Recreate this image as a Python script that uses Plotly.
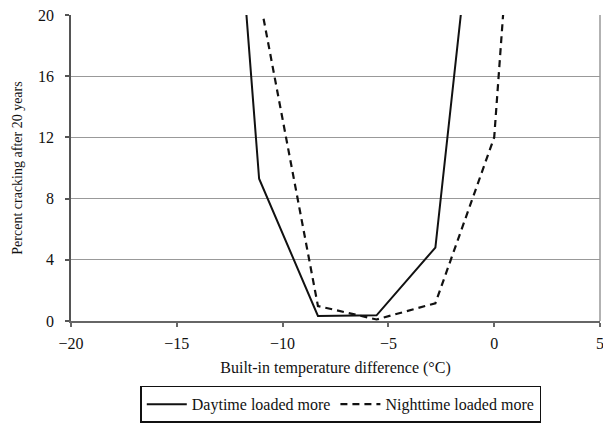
import plotly.graph_objects as go

# Built-in temperature difference (°C)
x_day = [-13.89, -11.11, -8.33, -5.56, -2.78, 0.0]
y_day = [59.0, 9.3, 0.33, 0.37, 4.8, 40.0]
x_night = [-11.11, -8.33, -5.56, -2.78, 0.0, 2.78]
y_night = [21.3, 0.98, 0.1, 1.16, 12.0, 65.0]
series_names = ["Daytime loaded more", "Nighttime loaded more"]
x_ticks = [-20, -15, -10, -5, 0, 5]
y_ticks = [0, 4, 8, 12, 16, 20]

FONT = "Liberation Serif"

fig = go.Figure()
fig.add_trace(go.Scatter(x=x_day, y=y_day, mode="lines", name=series_names[0],
                         line=dict(color="#111111", width=2)))
fig.add_trace(go.Scatter(x=x_night, y=y_night, mode="lines", name=series_names[1],
                         line=dict(color="#111111", width=2.2, dash="7px,5px")))

fig.update_layout(
    width=603, height=424,
    margin=dict(l=71, r=3, t=15, b=103, autoexpand=False),
    paper_bgcolor="white", plot_bgcolor="white",
    font=dict(family=FONT, size=14, color="#111111"),
    showlegend=True,
    legend=dict(orientation="h", x=0.51, xanchor="center",
                yref="container", y=0.003, yanchor="bottom",
                bordercolor="#111111", borderwidth=1.5, font=dict(family=FONT, size=16),
                itemwidth=40, tracegroupgap=0),
    xaxis=dict(range=[-20, 5], tickvals=x_ticks, showgrid=False, zeroline=False,
               showline=True, linecolor="#666666", linewidth=1.5,
               ticks="outside", ticklen=4, tickcolor="#666666", tickwidth=1.5,
               ticklabeloverflow="allow", ticklabelstandoff=3,
               title=dict(text="Built-in temperature difference (°C)", standoff=11,
                          font=dict(family=FONT, size=16)),
               tickfont=dict(family=FONT, size=16)),
    yaxis=dict(range=[0, 20], tickvals=y_ticks, showgrid=True, gridcolor="#999999",
               gridwidth=1.2, zeroline=False,
               showline=True, linecolor="#555555", linewidth=1.5,
               ticks="outside", ticklen=4, tickcolor="#555555", tickwidth=1.5,
               ticklabelstandoff=8,
               title=dict(text="Percent cracking after 20 years", standoff=12,
                          font=dict(family=FONT, size=14)),
               tickfont=dict(family=FONT, size=16)),
)
fig.add_shape(type="line", xref="paper", yref="paper", x0=1, x1=1, y0=0, y1=1,
              line=dict(color="#999999", width=1.5))

fig.write_html("out.html")
